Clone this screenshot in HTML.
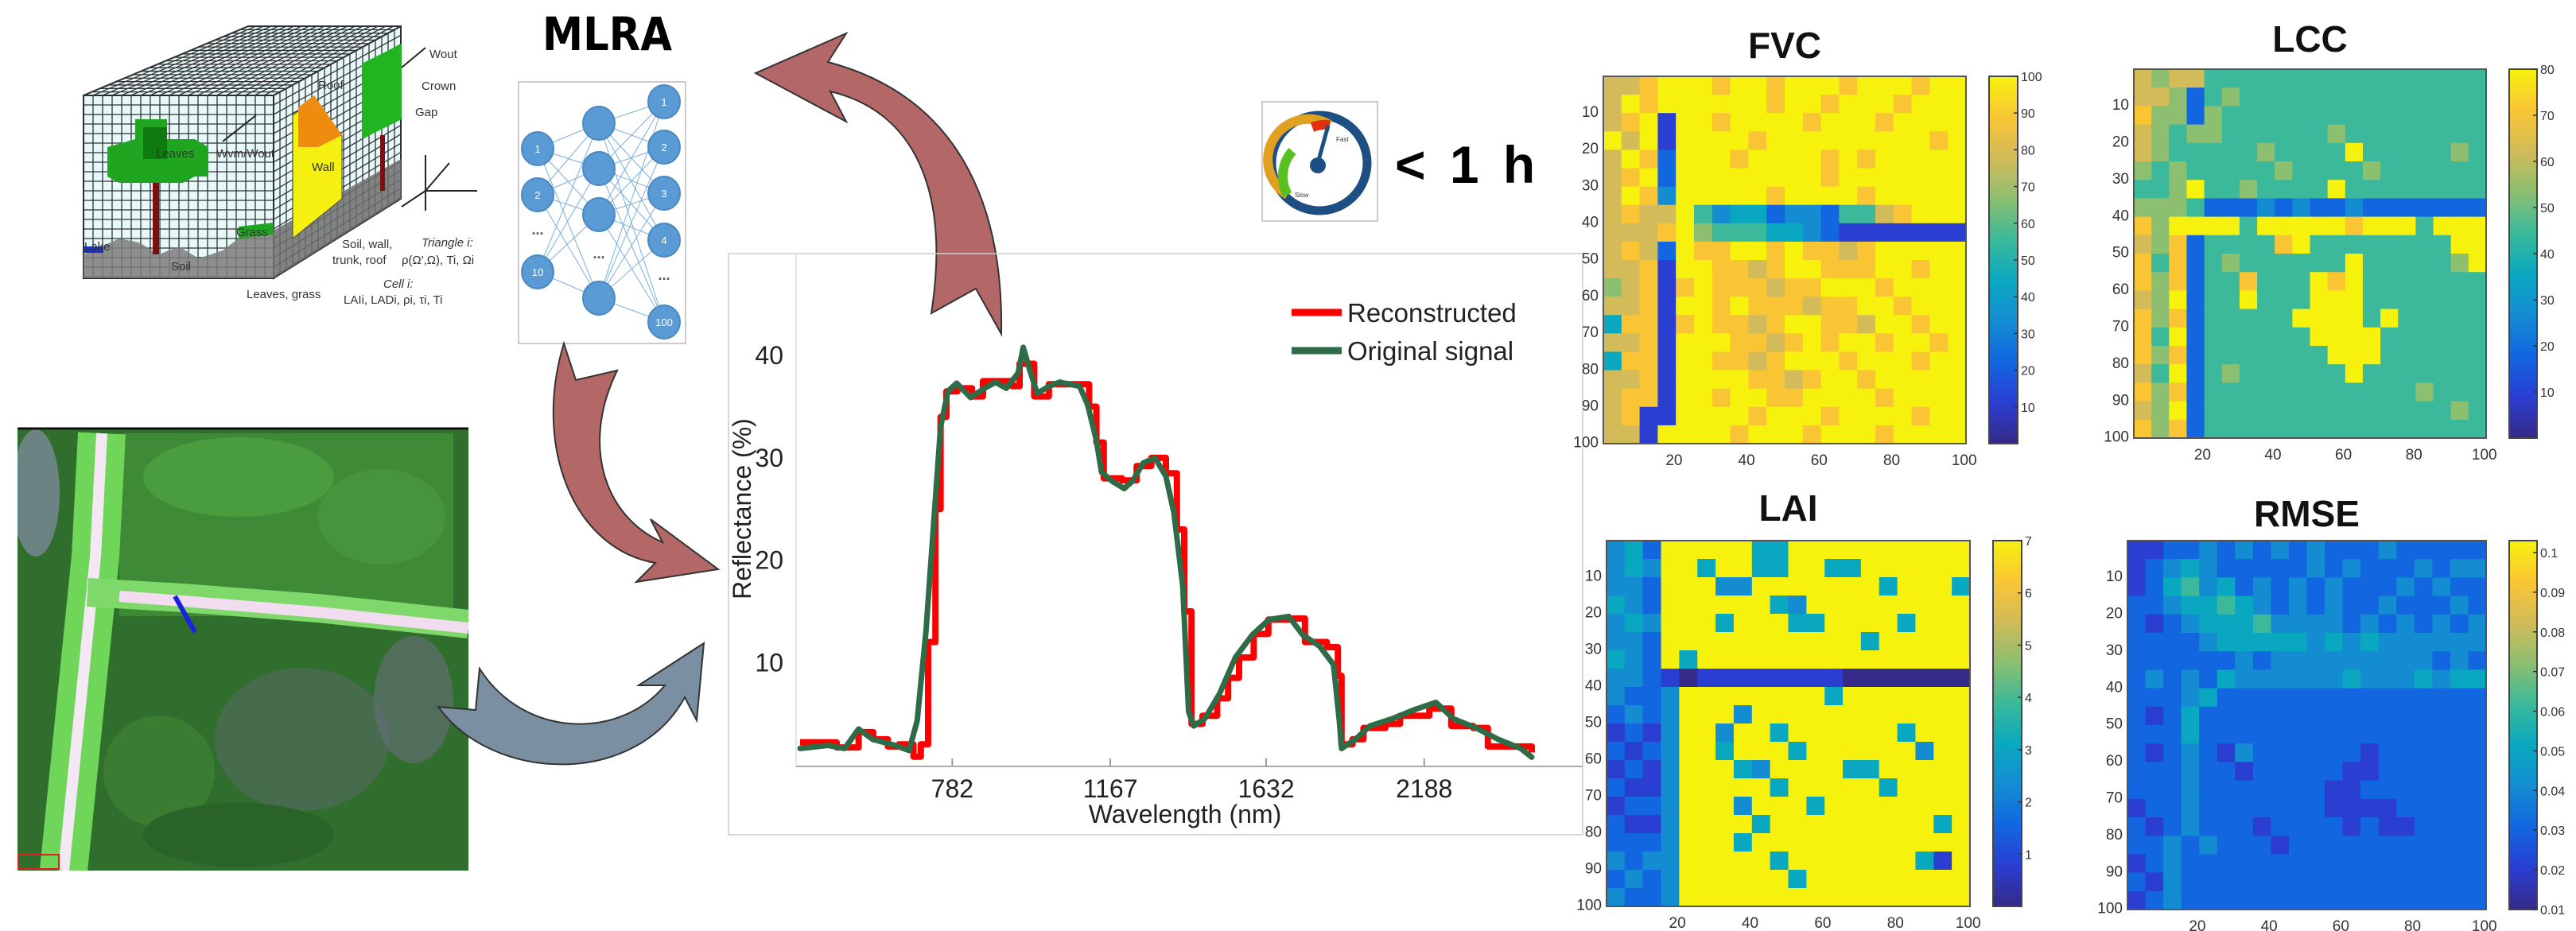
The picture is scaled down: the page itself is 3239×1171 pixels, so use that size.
<!DOCTYPE html>
<html><head><meta charset="utf-8"><style>
html,body{margin:0;padding:0;background:#fff;}
svg{display:block;font-family:"Liberation Sans",sans-serif;}
</style></head><body>
<svg id="root" width="3239" height="1171" viewBox="0 0 3239 1171" xmlns="http://www.w3.org/2000/svg">
<rect width="3239" height="1171" fill="#fff"/>

<!-- 3D cube (DART-like scene) -->
<g id="cube">
  <polygon points="105,120 312,33 504,33 344,120" fill="#e6f8f8" stroke="#222" stroke-width="2"/>
  <polygon points="344,120 504,33 504,250 344,350" fill="#e6f8f8" stroke="#222" stroke-width="2"/>
  <rect x="105" y="120" width="239" height="230" fill="#e6f8f8" stroke="#222" stroke-width="2"/>
  <g id="cubegrid" stroke="#333" stroke-width="1.3"></g>
  <polygon points="105,320 150,300 175,305 200,320 225,310 250,325 280,315 300,300 344,290 344,350 105,350" fill="#7d7d7d" opacity="0.85"/>
  <polygon points="344,290 504,200 504,250 344,350" fill="#6e6e6e" opacity="0.85"/>
  <rect x="105" y="310" width="25" height="8" fill="#1a2fd0"/>
  <rect x="192" y="225" width="8" height="95" fill="#7a1010"/>
  <polygon points="170,150 210,150 210,175 245,175 262,185 262,222 245,222 230,230 150,230 135,222 135,185 170,175" fill="#1fa51f"/>
  <rect x="180" y="160" width="30" height="40" fill="#0f7a0f"/>
  <polygon points="368,145 395,125 430,170 430,250 368,300" fill="#f5f010" stroke="#444" stroke-width="1"/>
  <polygon points="375,135 395,120 430,170 400,185 375,185" fill="#ef8c10"/>
  <polygon points="455,80 505,55 505,150 455,175" fill="#22b522"/>
  <rect x="478" y="170" width="6" height="70" fill="#7a1010"/>
  <polygon points="300,285 344,280 344,295 300,300" fill="#1fa51f"/>
  <g font-size="15" fill="#333">
    <text x="196" y="198">Leaves</text>
    <text x="272" y="198">Wvm/Wout</text>
    <text x="392" y="215">Wall</text>
    <text x="400" y="112">Roof</text>
    <text x="530" y="113">Crown</text>
    <text x="522" y="146">Gap</text>
    <text x="540" y="73">Wout</text>
    <text x="297" y="297">Grass</text>
    <text x="106" y="315">Lake</text>
    <text x="215" y="340">Soil</text>
    <text x="430" y="312">Soil, wall,</text>
    <text x="418" y="332">trunk, roof</text>
    <text x="530" y="310" font-style="italic">Triangle i:</text>
    <text x="505" y="332">ρ(Ω',Ω), Ti, Ωi</text>
    <text x="310" y="375">Leaves, grass</text>
    <text x="482" y="362" font-style="italic">Cell i:</text>
    <text x="432" y="382">LAIi, LADi, ρi, τi, Ti</text>
  </g>
  <g stroke="#222" stroke-width="2" fill="none">
    <line x1="280" y1="178" x2="322" y2="145"/>
    <line x1="505" y1="85" x2="535" y2="60"/>
    <line x1="535" y1="195" x2="535" y2="265"/>
    <line x1="535" y1="240" x2="600" y2="240"/>
    <line x1="535" y1="240" x2="505" y2="260"/>
    <line x1="535" y1="240" x2="565" y2="205"/>
  </g>
</g>

<!-- MLRA -->
<text x="682" y="63" font-family="'DejaVu Sans Condensed','DejaVu Sans',sans-serif" font-weight="bold" font-size="58" textLength="163" lengthAdjust="spacingAndGlyphs">MLRA</text>
<g id="nn">
  <rect x="652" y="103" width="210" height="329" fill="#fff" stroke="#bbb" stroke-width="1.5"/>
  <g id="nnlinks" stroke="#5b9bd5" stroke-width="1" opacity="0.8"></g>
  <g id="nnnodes"></g>
</g>

<!-- Gauge and time -->
<g>
  <rect x="1587" y="128" width="145" height="150" fill="#fff" stroke="#bbb" stroke-width="1.5"/>
  <circle cx="1659" cy="205" r="60" fill="none" stroke="#1d4f85" stroke-width="11"/>
  <path d="M1619,245 A48,48 0 0 1 1672,157" fill="none" stroke="#e0a020" stroke-width="12"/>
  <path d="M1619,245 A48,48 0 0 1 1625,190" fill="none" stroke="#58c020" stroke-width="12"/>
  <path d="M1650,160 A48,48 0 0 1 1672,157" fill="none" stroke="#e03010" stroke-width="12"/>
  <line x1="1657" y1="205" x2="1670" y2="158" stroke="#1d4f85" stroke-width="5"/>
  <circle cx="1657" cy="208" r="10" fill="#1d4f85"/>
  <text x="1680" y="178" font-size="8" fill="#333">Fast</text>
  <text x="1628" y="248" font-size="8" fill="#333">Slow</text>
</g>
<text x="1754" y="230" font-size="66" font-weight="bold" letter-spacing="6">&lt; 1 h</text>

<!-- Satellite image -->
<g>
  <clipPath id="satclip"><rect x="22" y="538" width="567" height="557"/></clipPath>
  <g clip-path="url(#satclip)">
    <rect x="22" y="538" width="567" height="557" fill="#2f6e2c"/>
    <rect x="150" y="545" width="420" height="230" fill="#3f8a36"/>
    <ellipse cx="300" cy="600" rx="120" ry="50" fill="#4fa542" opacity="0.7"/>
    <ellipse cx="480" cy="650" rx="80" ry="60" fill="#4a9a40" opacity="0.7"/>
    <ellipse cx="45" cy="620" rx="30" ry="80" fill="#7a8a9a" opacity="0.8"/>
    <ellipse cx="380" cy="930" rx="110" ry="90" fill="#5b6a6a" opacity="0.55"/>
    <ellipse cx="520" cy="880" rx="50" ry="80" fill="#6b7080" opacity="0.55"/>
    <ellipse cx="200" cy="970" rx="70" ry="70" fill="#3e8036" opacity="0.8"/>
    <ellipse cx="300" cy="1050" rx="120" ry="40" fill="#2a6227" opacity="0.9"/>
    <path d="M128,545 L120,700 L80,1095" stroke="#6fd65a" stroke-width="60" fill="none"/>
    <path d="M128,545 L120,700 L80,1095" stroke="#f3e8f3" stroke-width="14" fill="none"/>
    <path d="M110,745 L230,752 L400,765 L589,785" stroke="#7fd86a" stroke-width="36" fill="none"/>
    <path d="M150,750 L230,756 L400,770 L589,790" stroke="#f2dcef" stroke-width="14" fill="none"/>
    <line x1="220" y1="750" x2="245" y2="795" stroke="#1a22e0" stroke-width="6"/>
    <rect x="22" y="1075" width="52" height="18" fill="none" stroke="#e02020" stroke-width="2"/>
  </g>
  <line x1="22" y1="539" x2="589" y2="539" stroke="#111" stroke-width="3"/>
</g>

<!-- arrows -->
<path d="M1259,420 C1262,250 1200,120 1041,78 L1064,42 L950,92 L1064,153 L1044,115 C1150,140 1195,240 1171,394 L1227,363 Z" fill="#b36766" stroke="#333" stroke-width="2"/>
<path d="M709,432 C670,560 720,690 824,708 L800,732 L903,716 L818,653 L833,682 C760,650 730,560 776,466 L724,478 Z" fill="#b36766" stroke="#333" stroke-width="2"/>
<path d="M551,889 C620,985 800,990 861,877 L876,906 L885,809 L803,862 L836,862 C780,930 660,930 603,841 L598,893 Z" fill="#7b8fa3" stroke="#333" stroke-width="2"/>

<!-- Spectrum chart -->
<g id="chart">
  <rect x="916" y="319" width="1074" height="731" fill="none" stroke="#ccc" stroke-width="1.5"/>
  <line x1="1001" y1="319" x2="1001" y2="964" stroke="#ddd" stroke-width="1.5"/>
  <line x1="1001" y1="964" x2="1990" y2="964" stroke="#aaa" stroke-width="2"/>
  <g id="ticks"></g>
  <g id="series"></g>
  <text x="944" y="640" font-size="32" fill="#222" text-anchor="middle" transform="rotate(-90 944 640)">Reflectance (%)</text>
  <text x="1490" y="1035" font-size="32" fill="#222" text-anchor="middle">Wavelength (nm)</text>
  <g>
    <line x1="1624" y1="393" x2="1687" y2="393" stroke="#ff0000" stroke-width="9"/>
    <text x="1694" y="405" font-size="33" fill="#222">Reconstructed</text>
    <line x1="1624" y1="441" x2="1687" y2="441" stroke="#2e6b47" stroke-width="9"/>
    <text x="1694" y="453" font-size="33" fill="#222">Original signal</text>
  </g>
</g>

<g id="maps"></g>

<script>
// ---------- spectrum data ----------
var xTickPos = [20.8, 42.4, 63.7, 85.3];
var xTickLabels = ['782', '1167', '1632', '2188'];
var yTickVals = [10, 20, 30, 40];
var origX = [0,3.8,6.1,8,9.9,13,14.9,16,17.2,18.3,19.2,20.2,21.4,23.3,25.2,26.7,28.2,29.8,30.5,31.3,32.4,34,35.5,38.2,39.3,40.5,41.2,42.7,44.3,45.4,46.9,48.5,50,51.1,52.3,53.1,53.8,55.3,57.3,59.5,61.8,64.1,66.8,68.7,71,72.9,73.7,74,75.9,77.9,80.9,84,86.9,89.3,92.4,95.4,98.5,100];
var origY = [1.6,1.9,1.6,3.5,2.5,1.9,1.4,4.3,13,24,33,36.5,37.3,35.9,36.8,37.4,36.8,38.3,40.8,38.8,36.3,37,37.4,37,35.2,31.7,28.6,27.7,27,27.7,29.5,30,28.2,24.6,17.5,5.2,3.8,4.5,6.9,10.5,12.7,14.2,14.5,12.7,11.6,9.8,4.3,1.6,2.5,3.8,4.5,5.4,6.1,4.5,3.6,2.5,1.6,0.75];
var reconX = [0,4,5,8,10,12,13.5,15.5,16.5,17.5,18.5,19.2,20,21.5,23.5,25,27.5,29,30,32,34,38,39.5,40.5,41.5,44,46,48,50,51.5,52.5,53.5,55,57,58.5,60,62,64,67,69,72,73.5,74,75.5,77,80,82,86,89,92,94,98,100];
var reconY = [2.2,2.2,1.7,3.2,2.5,1.8,2.0,0.8,2,12,25,34,36.5,36.8,36,37.5,37.5,37,39.2,36,37.2,37.2,35,31.5,28,27.8,29.2,30,28.5,23,15,4,4.8,6.5,8.5,10.5,12.8,14.2,14.3,12,11.5,8.7,2,2.5,3.6,4,4.8,5.5,3.8,3.6,1.8,1.8,1.2];

function sx(v){ return 1006 + v * 9.2; }
function sy(v){ return 962 - v * 12.87; }
var NS = 'http://www.w3.org/2000/svg';
function mk(tag, attrs, parent){ var e = document.createElementNS(NS, tag); for (var k in attrs) e.setAttribute(k, attrs[k]); parent.appendChild(e); return e; }

var tg = document.getElementById('ticks');
xTickPos.forEach(function(p, i){
  var l = mk('line', {x1: sx(p), x2: sx(p), y1: 964, y2: 954, stroke: '#999', 'stroke-width': 2}, tg);
  
  
  var t = mk('text', {x: sx(p), y: 1003, 'font-size': 32, fill: '#222', 'text-anchor': 'middle'}, tg);
  t.textContent = xTickLabels[i];
  
  
});
yTickVals.forEach(function(v){
  var t = mk('text', {x: 985, y: sy(v) + 11, 'font-size': 32, fill: '#222', 'text-anchor': 'end'}, tg);
  t.textContent = v;
  
  
});
var sg = document.getElementById('series');
var d = 'M' + sx(reconX[0]) + ',' + sy(reconY[0]);
for (var i = 1; i < reconX.length; i++){ d += ' H' + sx(reconX[i]) + ' V' + sy(reconY[i]); }
var rp = mk('path', {d: d, fill: 'none', stroke: '#ff0000', 'stroke-width': 8, 'stroke-linejoin': 'round'}, sg);


var d2 = '';
for (var j = 0; j < origX.length; j++){ d2 += (j ? ' L' : 'M') + sx(origX[j]) + ',' + sy(origY[j]); }
var gp = mk('path', {d: d2, fill: 'none', stroke: '#2e6b47', 'stroke-width': 7, 'stroke-linejoin': 'round', 'stroke-linecap': 'round'}, sg);



// ---------- cube grid ----------
var cg = document.getElementById('cubegrid');
for (var gx = 105; gx <= 344; gx += 12) mk('line', {x1: gx, y1: 120, x2: gx, y2: 350}, cg);
for (var gy = 120; gy <= 350; gy += 12) mk('line', {x1: 105, y1: gy, x2: 344, y2: gy}, cg);
for (var k = 0; k <= 20; k++){ var f = k / 20;
  mk('line', {x1: 105 + 239 * f, y1: 120, x2: 312 + 192 * f, y2: 33}, cg);
  mk('line', {x1: 105 + 207 * f, y1: 120 - 87 * f, x2: 344 + 160 * f, y2: 120 - 87 * f}, cg);
  mk('line', {x1: 344 + 160 * f, y1: 120 - 87 * f, x2: 344 + 160 * f, y2: 350 - 100 * f}, cg);
}
for (var k2 = 0; k2 <= 19; k2++){ var yy = k2 * 12; mk('line', {x1: 344, y1: 120 + yy, x2: 504, y2: 33 + yy * 217 / 230}, cg); }

// ---------- neural net ----------
var nnCol1 = [187, 245, 342], nnCol2 = [155, 212, 270, 375], nnCol3 = [128, 185, 243, 302, 405];
var nnLabels1 = ['1', '2', '10'], nnLabels3 = ['1', '2', '3', '4', '100'];
var lg = document.getElementById('nnlinks'), ng = document.getElementById('nnnodes');
nnCol1.forEach(function(a){ nnCol2.forEach(function(b){ mk('line', {x1: 676, y1: a, x2: 753, y2: b}, lg); }); });
nnCol2.forEach(function(a){ nnCol3.forEach(function(b){ mk('line', {x1: 753, y1: a, x2: 835, y2: b}, lg); }); });
function node(cx, cy, lab){
  var c = mk('ellipse', {cx: cx, cy: cy, rx: 20, ry: 21, fill: '#5b9bd5', stroke: '#4a88c2', 'stroke-width': 2}, ng);
  
  
  if (lab){ var t = mk('text', {x: cx, y: cy + 5, 'font-size': 13, fill: '#fff', 'text-anchor': 'middle'}, ng); t.textContent = lab; }
}
nnCol1.forEach(function(y, i){ node(676, y, nnLabels1[i]); });
nnCol2.forEach(function(y){ node(753, y, ''); });
nnCol3.forEach(function(y, i){ node(835, y, nnLabels3[i]); });
[[676, 295], [753, 325], [835, 352]].forEach(function(p){ var t = mk('text', {x: p[0], y: p[1], 'font-size': 18, fill: '#555', 'text-anchor': 'middle', 'font-weight': 'bold'}, ng); t.textContent = '...'; });

// ---------- heatmaps ----------
var fvcRows = ["77899989989998999899","79899999989989998999","78919989999899989999","97919999899999999989","79829998999989899999","78929999999989999999","79839999989999899999","78779534423325578999","77789655544321111111","78729889989887899999","77819988789988899899","67818988878899989999","77819989888788998999","48818988789988799899","77819998878989989989","48819988789998999899","77819999887899899999","78819989988999989999","78119999899989999899","77199998999899989999"];
var lccRows = ["76775555555555555555","77625655555555555555","86626555555555555555","76566555555655555555","76555556555595555565","65655555655556555555","55695565555955555555","66652223232232222222","86999959999989995999","76825555895555555599","85825655555595555569","86825585559895555555","76925595559995555555","86825555599995955555","85925555559999555555","86825555555999555555","75925655555595555555","86825555555555556555","76925555555555555565","86825555555555555555"];
var laiRows = ["34299999449999999999","34399499449944999999","33299933999999949994","43299999943999999999","34399949994499994999","33299999999999499999","43294999999999999999","33210111111110000000","32239999999949999999","23239993999999999999","12139939949999994999","21239949994999999399","12139994399994499999","21139999949999949999","12239993999499999999","21139999499999999949","22239994999999999999","32339999949999999419","23239999994999999999","32239999999999999999"];
var rmseRows = ["11223232323222322222","12343222223232223233","12453423232322232322","22344543232322322232","21234445333323232323","22223444443434333333","22222232333333333232","23232433333343334344","22234222222222222222","21242222222222222222","22242222222222222222","21232132222221222222","22232212222211222222","22232222222112222222","12232222222111122222","21232221222212112222","22323222122222222222","12322222222222222222","21322222222222222222","12322222222222222222"];
var mapAxisY = ['10','20','30','40','50','60','70','80','90','100'];
var mapAxisX = ['20','40','60','80','100'];
var fvcCb = ['10','20','30','40','50','60','70','80','90','100'];
var lccCb = ['10','20','30','40','50','60','70','80'];
var laiCb = ['1','2','3','4','5','6','7'];
var rmseCb = ['0.01','0.02','0.03','0.04','0.05','0.06','0.07','0.08','0.09','0.1'];
var parula = ['#352a87','#2a3ed2','#1266e0','#138cd2','#0aa8c0','#3bb99a','#8cbf70','#d2bb58','#f9c535','#f6f20e'];

var mapsG = document.getElementById('maps');
function drawMap(rows, title, x, y, w, h, cbx, cbw, cbLabels, cbMin, cbMax, titleY, name){
  var g = mk('g', {}, mapsG);
  
  
  var n = rows.length, cw = w / 20, ch = h / n;
  rows.forEach(function(r, ri){
    for (var ci = 0; ci < r.length; ci++){
      var c = mk('rect', {x: x + ci * cw, y: y + ri * ch, width: cw + 0.6, height: ch + 0.6, fill: parula[+r[ci]]}, g);
      
      
    }
  });
  mk('rect', {x: x, y: y, width: w, height: h, fill: 'none', stroke: '#555', 'stroke-width': 2}, g);
  var tt = mk('text', {x: x + w / 2, y: titleY, 'font-size': 46, 'font-weight': 'bold', 'text-anchor': 'middle', fill: '#111'}, g);
  tt.textContent = title;
  
  
  mapAxisY.forEach(function(l){
    var yy = y + h * (+l - 0.5) / 100;
    var t = mk('text', {x: x - 6, y: yy + 7, 'font-size': 19, fill: '#333', 'text-anchor': 'end'}, g);
    t.textContent = l;
    
    
  });
  mapAxisX.forEach(function(l){
    var xx = x + w * (+l - 0.5) / 100;
    var t = mk('text', {x: xx, y: y + h + 27, 'font-size': 19, fill: '#333', 'text-anchor': 'middle'}, g);
    t.textContent = l;
    
    
  });
  var gid = 'grad' + name;
  var defs = mk('defs', {}, g);
  var lgd = mk('linearGradient', {id: gid, x1: 0, y1: 1, x2: 0, y2: 0}, defs);
  parula.forEach(function(col, i){ mk('stop', {offset: (i / 9).toFixed(3), 'stop-color': col}, lgd); });
  var cb = mk('rect', {x: cbx, y: y, width: cbw, height: h, fill: 'url(#' + gid + ')', stroke: '#444', 'stroke-width': 2}, g);
  
  
  cbLabels.forEach(function(l){
    var yy = y + h - h * (+l - cbMin) / (cbMax - cbMin);
    mk('line', {x1: cbx + cbw - 5, x2: cbx + cbw, y1: yy, y2: yy, stroke: '#333', 'stroke-width': 1.5}, g);
    var t = mk('text', {x: cbx + cbw + 4, y: yy + 6, 'font-size': 16, fill: '#333'}, g);
    t.textContent = l;
    
    
  });
}
drawMap(fvcRows, 'FVC', 2016, 96, 456, 462, 2501, 36, fvcCb, 0, 100, 73, 'fvc');
drawMap(lccRows, 'LCC', 2683, 87, 443, 464, 3155, 35, lccCb, 0, 80, 65, 'lcc');
drawMap(laiRows, 'LAI', 2020, 680, 457, 460, 2506, 36, laiCb, 0, 7, 655, 'lai');
drawMap(rmseRows, 'RMSE', 2675, 680, 451, 464, 3155, 35, rmseCb, 0.01, 0.103, 662, 'rmse');
</script>
</svg>
</body></html>
